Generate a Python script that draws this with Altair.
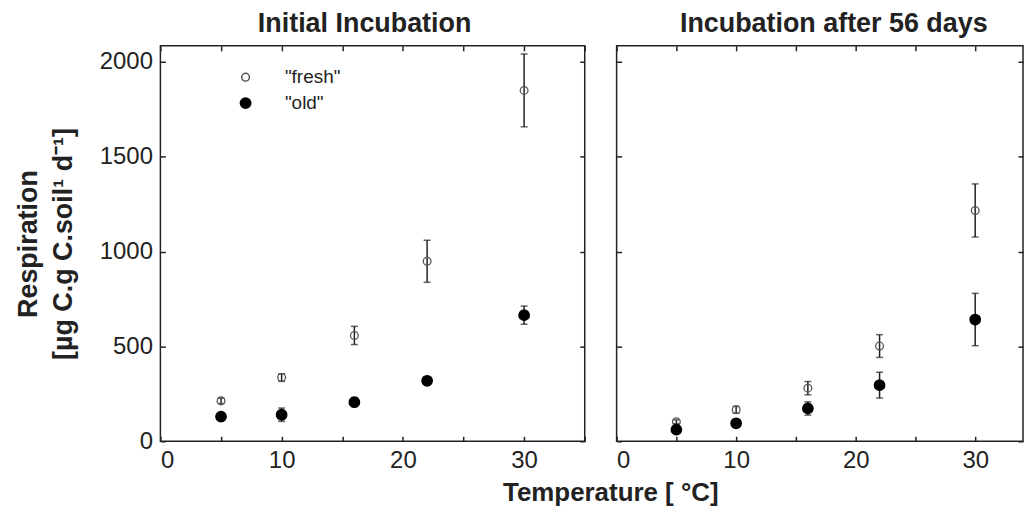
import altair as alt
import pandas as pd

temps = [5, 10, 16, 22, 30]

init_fresh = [213, 336, 558, 949, 1850]
init_fresh_err = [14, 20, 48, 111, 192]
init_old = [130, 140, 206, 319, 665]
init_old_err = [8, 35, 24, 12, 48]

after_fresh = [103, 166, 280, 502, 1217]
after_fresh_err = [10, 18, 35, 60, 140]
after_old = [61, 95, 173, 296, 642]
after_old_err = [12, 12, 35, 68, 138]

series_names = ['"fresh"', '"old"']
y_ticks = [0, 500, 1000, 1500, 2000]

FONT = "Liberation Sans"
INK = "#222222"


def make_df(fresh, fresh_err, old, old_err):
    rows = []
    for name, vals, errs in ((series_names[0], fresh, fresh_err), (series_names[1], old, old_err)):
        for t, v, e in zip(temps, vals, errs):
            rows.append(dict(temp=t, value=v, low=v - e, high=v + e, series=name))
    return pd.DataFrame(rows)


def panel(df, title, title_dx, xmax, width, show_labels, show_legend):
    xs = alt.Scale(domain=[0, xmax], nice=False, zero=False)
    ys = alt.Scale(domain=[0, 2085], nice=False, zero=False)
    x_ticks = [v for v in range(0, 40, 5) if v <= xmax]
    common = dict(offset=-5, tickSize=5, tickWidth=1.5, tickColor=INK,
                  domain=False, grid=False)
    xb = alt.Axis(orient="bottom", values=x_ticks,
                  labelExpr="datum.value % 10 === 0 ? datum.label : ''",
                  labelPadding=7, labelFontSize=24, labelColor=INK, labelFont=FONT,
                  title=None, **common)
    xt = alt.Axis(orient="top", values=x_ticks, labels=False, title=None, **common)
    if show_labels:
        yl = alt.Axis(orient="left", values=y_ticks, format="d", labelPadding=8,
                      labelFontSize=24, labelColor=INK, labelFont=FONT,
                      title=["Respiration", "[µg C.g C.soil¹ d⁻¹]"],
                      titleFont=FONT, titleFontSize=27, titleFontWeight="bold",
                      titleColor=INK, titleLineHeight=35, titlePadding=22, **common)
    else:
        yl = alt.Axis(orient="left", values=y_ticks, labels=False, title=None, **common)
    yr = alt.Axis(orient="right", values=y_ticks, labels=False, title=None, **common)

    if show_legend:
        legend = alt.Legend(title=None, orient="none", legendX=76, legendY=22,
                            symbolType="circle", labelFont=FONT, labelFontSize=19,
                            labelColor=INK, labelOffset=30, rowPadding=6, padding=0)
    else:
        legend = None

    base = alt.Chart(df)
    bars = base.mark_rule(color=INK, strokeWidth=1.5).encode(
        x=alt.X("temp:Q", scale=xs, axis=None),
        y=alt.Y("low:Q", scale=ys, axis=None),
        y2="high:Q",
    )
    cap_lo = base.mark_tick(orient="horizontal", size=7, thickness=1.5, color=INK).encode(
        x=alt.X("temp:Q", scale=xs, axis=None),
        y=alt.Y("low:Q", scale=ys, axis=None),
    )
    cap_hi = base.mark_tick(orient="horizontal", size=7, thickness=1.5, color=INK).encode(
        x=alt.X("temp:Q", scale=xs, axis=None),
        y=alt.Y("high:Q", scale=ys, axis=None),
    )
    pts = base.mark_point(shape="circle", filled=True, strokeWidth=1.3, opacity=1).encode(
        x=alt.X("temp:Q", scale=xs, axis=xb),
        y=alt.Y("value:Q", scale=ys, axis=yl),
        fill=alt.Fill("series:N", scale=alt.Scale(domain=series_names,
                                                  range=["transparent", "#000000"]),
                      legend=legend),
        stroke=alt.Stroke("series:N", scale=alt.Scale(domain=series_names,
                                                      range=["#555555", "#000000"]),
                          legend=legend),
        size=alt.Size("series:N", scale=alt.Scale(domain=series_names, range=[60, 110]),
                      legend=legend),
    )
    helper = base.mark_point(opacity=0).encode(
        x=alt.X("temp:Q", scale=xs, axis=xt),
        y=alt.Y("value:Q", scale=ys, axis=yr),
    )
    return (
        alt.layer(bars, cap_lo, cap_hi, pts, helper)
        .resolve_axis(x="independent", y="independent")
        .properties(
            width=width,
            height=397,
            view=alt.ViewBackground(stroke=INK, strokeWidth=1.5),
            title=alt.TitleParams(title, font=FONT, fontSize=27, fontWeight="bold",
                                  color=INK, offset=7, dx=title_dx),
        )
    )


left = panel(make_df(init_fresh, init_fresh_err, init_old, init_old_err),
             "Initial Incubation", -8, 35, 426, True, True)
right = panel(make_df(after_fresh, after_fresh_err, after_old, after_old_err),
              "Incubation after 56 days", 14, 34, 408, False, False)

chart = (
    alt.hconcat(left, right, spacing=28)
    .resolve_scale(fill="independent", stroke="independent", size="independent")
    .properties(
        title=alt.TitleParams("Temperature [ °C]", orient="bottom", anchor="middle",
                              font=FONT, fontSize=26, fontWeight="bold", color=INK,
                              offset=7, dx=92),
        padding={"left": 5, "top": 0, "right": 0, "bottom": 0},
    )
    .configure_view(stroke=INK, strokeWidth=1.5)
    .configure(background="white")
)

chart.save("out.html", embed_options={"renderer": "svg", "actions": False})
